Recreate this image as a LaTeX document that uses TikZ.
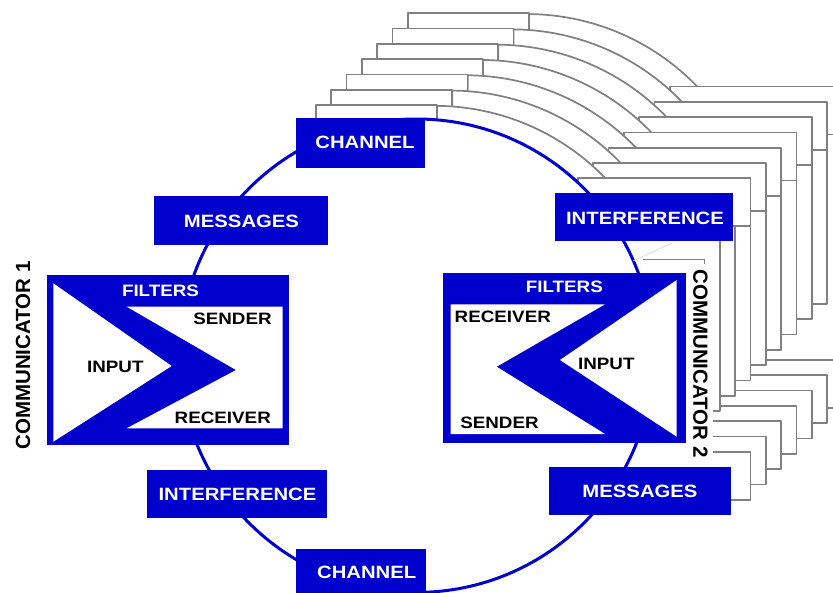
\documentclass[tikz,border=0pt]{standalone}
\usepackage{fontspec}
\newfontfamily\labfont{Liberation Sans}[FakeStretch=1.14]
\newfontfamily\plainfont{Liberation Sans}
\definecolor{cblue}{RGB}{0,0,204}
\definecolor{ghostgray}{RGB}{128,128,128}
\tikzset{
  % parts of one stacked back copy
  gchannel/.style={insert path={(300.7,120.4) rectangle (421.7,166.4)}},
  ginterf/.style={insert path={(562.7,193.6) rectangle (735.3,241.6)}},
  gbar/.style={insert path={(690,221) rectangle (720,411)}},
  gmessages/.style={insert path={(553,467) rectangle (735.3,515)}},
  garc/.style={insert path={
    plot[domain=89.5:43.95, samples=40, variable=\t]
      ({419.7+236.7*cos(\t)},{357.85-236.7*sin(\t)})
      -- (570,241.6) -- (421.7,166.4) -- cycle}},
  ghost/.style={fill=white, draw=ghostgray, line width=1.7pt, line join=round},
  bluebox/.style={fill=cblue, draw=none, inner sep=0pt, rectangle},
  boxtext/.style={text=white, inner sep=0pt, font=\labfont\bfseries\fontsize{17.8pt}{20pt}\selectfont},
  filtertext/.style={text=white, inner sep=0pt, font=\labfont\bfseries\fontsize{16.5pt}{18pt}\selectfont},
  innertext/.style={text=black, inner sep=0pt, font=\labfont\bfseries\fontsize{16.5pt}{18pt}\selectfont},
  sidetext/.style={text=black, inner sep=0pt, font=\plainfont\bfseries\fontsize{20.5pt}{23pt}\selectfont},
}
\begin{document}
\begin{tikzpicture}[x=1pt,y=-1pt]
\useasboundingbox (0,0) rectangle (833,592);

% stacked copies, back to front
\foreach \k in {7,6,...,1}{
  \begin{scope}[shift={(15.3*\k,-15.3*\k)}]
    \path[ghost, garc];
    \path[ghost, gchannel];
    \path[ghost, gbar];
    \path[ghost, ginterf];
    \path[ghost, gmessages];
  \end{scope}
}
% side bar of the copy sitting right behind the main ring
\path[ghost, gbar];

% white face of the main ring and of communicator 2
\fill[white] (416.5,355.7) circle[radius=236.7pt];
\fill[white] (443,240) rectangle (713,467);

% the ring
\draw[cblue, line width=3pt] (416.5,355.7) circle[radius=236.7pt];

% boxes on the ring
\node[bluebox, minimum width=129pt, minimum height=50pt] (chT) at (360.5,143) {};
\node[bluebox, minimum width=174pt, minimum height=49pt] (msgL) at (241,220.5) {};
\node[bluebox, minimum width=178pt, minimum height=48pt] (intR) at (644,217) {};
\node[bluebox, minimum width=180pt, minimum height=48pt] (intL) at (237,494) {};
\node[bluebox, minimum width=182pt, minimum height=48pt] (msgR) at (640,491) {};
\node[bluebox, minimum width=130pt, minimum height=52pt] (chB) at (361,575) {};

\node[boxtext] (tchT) at (365,142) {CHANNEL};
\node[boxtext] (tmsgL) at (241.5,221) {MESSAGES};
\node[boxtext] (tintR) at (645,218) {INTERFERENCE};
\node[boxtext] (tintL) at (237.5,494) {INTERFERENCE};
\node[boxtext] (tmsgR) at (640,491) {MESSAGES};
\node[boxtext] (tchB) at (366.7,572.5) {CHANNEL};

% communicator 1
\node[bluebox, minimum width=242pt, minimum height=170pt] (comm1) at (168,360) {};
\fill[white] (53.3,283.3) -- (53.3,441.7) -- (171.7,366) -- cycle;
\fill[white] (126.7,306.7) -- (282.7,306.7) -- (282.7,428.3) -- (126.7,428.3) -- (236,370) -- cycle;
\node[filtertext] (f1) at (160.5,291) {FILTERS};
\node[innertext] (s1) at (232.5,319) {SENDER};
\node[innertext] (i1) at (115.3,366.7) {INPUT};
\node[innertext] (r1) at (222.8,418.3) {RECEIVER};
\node[sidetext, rotate=90] (lab1) at (23,355.5) {COMMUNICATOR 1};

% communicator 2
\node[bluebox, minimum width=243pt, minimum height=170pt] (comm2) at (564.5,358) {};
\fill[white] (676.7,280) -- (676.7,436.7) -- (560,360) -- cycle;
\fill[white] (450.7,304.3) -- (605,304.3) -- (496.7,366.7) -- (605,434) -- (450.7,434) -- cycle;
\node[filtertext] (f2) at (564.3,286.7) {FILTERS};
\node[innertext] (r2) at (502.8,316.7) {RECEIVER};
\node[innertext] (i2) at (606.3,363.7) {INPUT};
\node[innertext] (s2) at (499.5,423) {SENDER};
\node[sidetext, rotate=-90] (lab2) at (700.3,363.5) {COMMUNICATOR 2};

% small frame corner above the second label
\draw[ghostgray!35, line width=0.6pt] (633,261) -- (672,243);
\draw[ghostgray, line width=1.6pt] (643,259.3) -- (704.5,259.3) -- (704.5,264);
\end{tikzpicture}
\end{document}
